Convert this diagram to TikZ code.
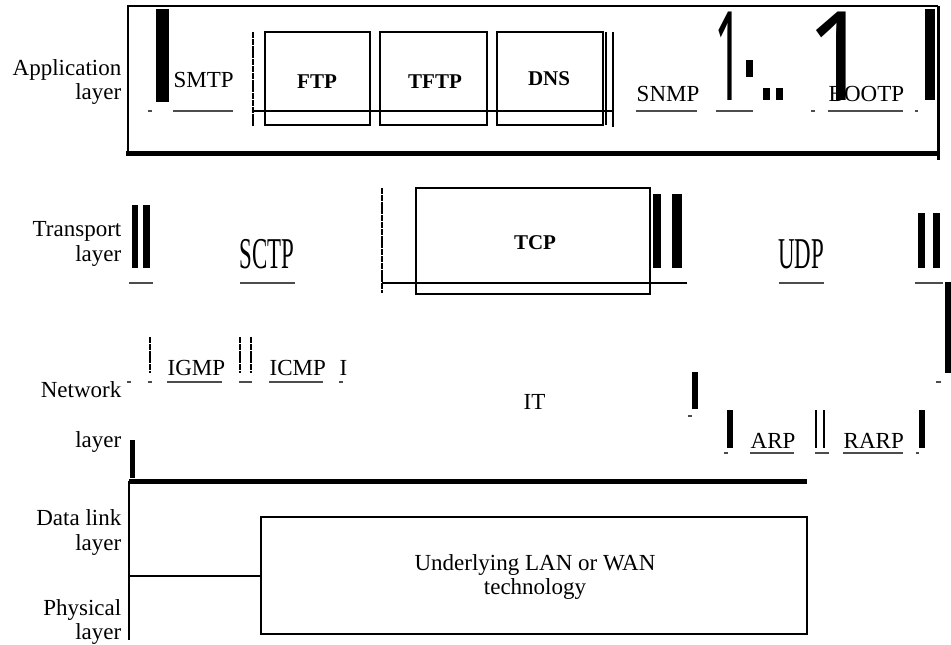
\documentclass[tikz,border=0pt]{standalone}
\usepackage{fontspec}
\setmainfont{Liberation Serif}
\newfontfamily\digitfont{Noto Sans}
\begin{document}
\begin{tikzpicture}[x=.5pt,y=-.5pt,line width=.7pt,inner sep=0pt,
  lab/.style={anchor=base east,font=\fontsize{11.5}{13}\selectfont},
  txt/.style={anchor=base west,font=\fontsize{11.5}{13}\selectfont},
  bold/.style={anchor=base,font=\fontsize{10.5}{12}\selectfont\bfseries},
  tall/.style={anchor=base,font=\fontsize{22}{24}\selectfont},
  digit/.style={anchor=base west,font=\fontsize{62}{62}\selectfont\digitfont},
  uline/.style={draw=black!70,line width=.6pt},
  rag/.style={line width=1.1pt,dash pattern=on 3pt off .4pt},
  thick bar/.style={line width=2.5pt}]
\useasboundingbox (0,0) rectangle (951,644);
% layer names
\node[lab] (app) at (122,75) {Application};\node[lab] (appl) at (122,99) {layer};
\node[lab] (tra) at (122,236) {Transport};\node[lab] (tral) at (122,261) {layer};
\node[lab] (net) at (122,397) {Network};\node[lab] (netl) at (122,447) {layer};
\node[lab] (dl) at (122,525) {Data link};\node[lab] (dll) at (122,550) {layer};
\node[lab] (phy) at (122,615) {Physical};\node[lab] (phyl) at (122,639) {layer};
% application layer
\draw (128,155)--(128,6)--(938,6);\draw[thick bar] (126,153)--(940,153);
\draw[line width=1.5pt] (938,6)--(938,160);
\fill (156,9) rectangle (169,102);\fill (925,9) rectangle (935,100);
\node[txt] (smtp) at (173,87) {SMTP};
\draw[rag] (253,32)--(253,127);
\draw[line width=1pt] (265,32) rectangle (370,125);\node[bold] (ftp) at (317,88) {FTP};
\draw[line width=1pt] (380,32) rectangle (487,125);\node[bold] (tftp) at (435,88) {TFTP};
\draw[line width=1pt] (497,32) rectangle (603,125);\node[bold] (dns) at (549,85) {DNS};
\draw (606,32)--(606,125);\draw (613,32)--(613,127);\draw (253,111)--(613,111);
\node[txt] (snmp) at (636,101) {SNMP};\node[txt] (bootp) at (828,101) {BOOTP};
\node[digit] (one) at (713.5,100) {\scalebox{.4}[1]{1}};
\node[digit] (onebig) at (806,100) {\scalebox{.9}[1]{1}};
\fill (746,60) rectangle (753,77);\fill (763,88) rectangle (770,100);\fill (776,88) rectangle (783,100);
\draw[uline] (148,111)--(152,111) (173,111)--(233,111) (636,111)--(697,111) (716,111)--(753,111)
  (811,111)--(815,111) (828,111)--(903,111) (915,111)--(918,111);
% transport layer
\fill (132,205) rectangle (138,268);\fill (143,205) rectangle (150,268);
\node[tall] (sctp) at (267,268) {\scalebox{.52}[1]{SCTP}};
\draw[rag] (382,188)--(382,293);\draw[line width=1pt] (416,188) rectangle (650,294);
\draw (382,283)--(687,283);\node[bold] (tcp) at (535,249) {TCP};
\fill (653,194) rectangle (661,268);\fill (672,194) rectangle (682,268);
\node[tall] (udp) at (801,268) {\scalebox{.52}[1]{UDP}};
\fill (918,213) rectangle (925,268);\fill (933,213) rectangle (940,268);\fill (945,282) rectangle (951,373);
\draw[uline] (129,283)--(153,283) (240,283)--(295,283) (779,283)--(824,283) (915,283)--(943,283) (936,382)--(941,382);
% network layer
\draw[rag,line width=1.3pt] (150,337)--(150,373) (240,337)--(240,373) (251,337)--(251,373);
\node[txt] (igmp) at (167,375) {IGMP};\node[txt] (icmp) at (269,375) {ICMP};\node[txt] (ii) at (339,375) {I};
\node[txt] (ip) at (523,409) {IT};
\fill (692,372) rectangle (698,409);\fill (727,410) rectangle (733,448);\fill (919,410) rectangle (925,448);
\draw[line width=1pt] (816,410)--(816,448) (824,410)--(824,448);
\node[txt] (arp) at (750,448) {ARP};\node[txt] (rarp) at (843,448) {RARP};
\draw[uline] (127,382)--(131,382) (148,382)--(152,382) (167,382)--(222,382) (239,382)--(252,382)
  (269,382)--(323,382) (339,382)--(343,382) (688,416)--(692,416) (724,453)--(728,453)
  (750,453)--(794,453) (815,453)--(829,453) (843,453)--(903,453) (916,453)--(919,453);
\fill (130,440) rectangle (135,478);\draw[thick bar] (129,481)--(807,481);
% data link and physical
\draw (129,481)--(129,640);\draw (129,576)--(261,576);\draw (261,517) rectangle (807,634);
\node[anchor=base,font=\fontsize{11.5}{13}\selectfont] (lan) at (535,570) {Underlying LAN or WAN};
\node[anchor=base,font=\fontsize{11.5}{13}\selectfont] (tech) at (535,594) {technology};
\end{tikzpicture}
\end{document}
